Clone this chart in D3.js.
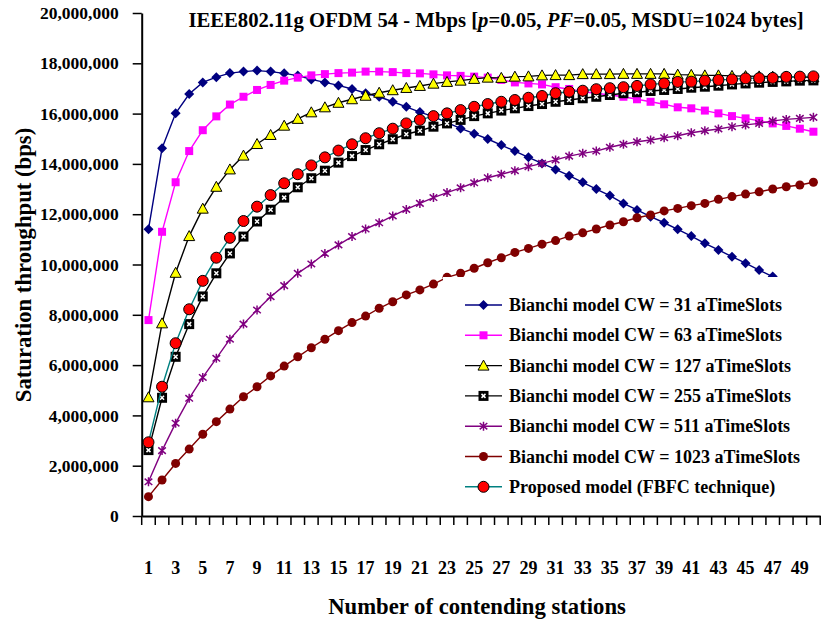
<!DOCTYPE html>
<html>

<head>
  <title>Saturation throughput</title>

  <style>
    body,
    html {
      margin: 0;
      padding: 0;
      background: #fff;
    }

    text {
      font-family: "Liberation Serif", "Times New Roman", serif;
      font-weight: bold;
      fill: #000;
    }
  </style>
</head>

<body>

  <svg id="svg" width="821" height="622"></svg>

  <script src="https://d3js.org/d3.v7.min.js"></script>
  <script>
    // values in millions of bps
    const stations = [1, 2, 3, 4, 5, 6, 7, 8, 9, 10, 11, 12, 13, 14, 15, 16, 17, 18, 19, 20,
      21, 22, 23, 24, 25, 26, 27, 28, 29, 30, 31, 32, 33, 34, 35, 36, 37, 38, 39, 40,
      41, 42, 43, 44, 45, 46, 47, 48, 49, 50]
    const xTickLabels = [1, 3, 5, 7, 9, 11, 13, 15, 17, 19, 21, 23, 25, 27, 29, 31, 33, 35, 37, 39, 41, 43, 45, 47, 49]
    const yTicks = [0, 2, 4, 6, 8, 10, 12, 14, 16, 18, 20]

    const cw31 = [11.40, 14.62, 16.01, 16.78, 17.24, 17.45, 17.61, 17.67, 17.71, 17.67,
      17.60, 17.51, 17.36, 17.24, 17.12, 16.98, 16.81, 16.67, 16.47, 16.27,
      16.06, 15.88, 15.64, 15.41, 15.20, 14.99, 14.75, 14.51, 14.26, 14.02,
      13.78, 13.53, 13.27, 13.00, 12.74, 12.43, 12.17, 11.90, 11.66, 11.40,
      11.13, 10.84, 10.58, 10.31, 10.05, 9.78, 9.52, 9.25, 8.98, 8.71]
    const cw63 = [7.79, 11.30, 13.27, 14.51, 15.34, 15.89, 16.36, 16.67, 16.94, 17.14,
      17.31, 17.43, 17.52, 17.57, 17.61, 17.63, 17.67, 17.67, 17.65, 17.61,
      17.60, 17.56, 17.52, 17.50, 17.47, 17.43, 17.34, 17.24, 17.20, 17.16,
      17.05, 16.98, 16.87, 16.81, 16.74, 16.67, 16.57, 16.47, 16.37, 16.25,
      16.21, 16.12, 16.01, 15.90, 15.81, 15.71, 15.61, 15.51, 15.40, 15.28]
    const cw127 = [4.72, 7.66, 9.67, 11.13, 12.22, 13.09, 13.78, 14.33, 14.79, 15.15,
      15.52, 15.79, 16.05, 16.25, 16.43, 16.57, 16.71, 16.83, 16.93, 17.02,
      17.10, 17.19, 17.26, 17.31, 17.38, 17.43, 17.42, 17.47, 17.48, 17.52,
      17.53, 17.53, 17.57, 17.57, 17.57, 17.58, 17.58, 17.58, 17.58, 17.55,
      17.54, 17.52, 17.52, 17.50, 17.49, 17.48, 17.47, 17.46, 17.45, 17.44]
    const cw255 = [2.62, 4.70, 6.33, 7.63, 8.73, 9.65, 10.44, 11.11, 11.71, 12.18,
      12.66, 13.07, 13.43, 13.73, 14.05, 14.31, 14.55, 14.78, 14.98, 15.18,
      15.32, 15.48, 15.61, 15.75, 15.90, 16.01, 16.12, 16.21, 16.30, 16.38,
      16.47, 16.54, 16.61, 16.67, 16.74, 16.81, 16.85, 16.90, 16.94, 16.98,
      17.03, 17.07, 17.11, 17.16, 17.20, 17.23, 17.26, 17.28, 17.31, 17.32]
    const cw511 = [1.36, 2.60, 3.69, 4.68, 5.51, 6.27, 7.03, 7.63, 8.19, 8.72,
      9.16, 9.65, 10.02, 10.44, 10.78, 11.11, 11.41, 11.66, 11.93, 12.19,
      12.43, 12.66, 12.86, 13.05, 13.25, 13.45, 13.59, 13.73, 13.89, 14.02,
      14.16, 14.31, 14.42, 14.51, 14.66, 14.78, 14.88, 14.95, 15.04, 15.12,
      15.24, 15.32, 15.39, 15.48, 15.55, 15.61, 15.71, 15.77, 15.81, 15.85]
    const cw1023 = [0.77, 1.43, 2.09, 2.66, 3.25, 3.75, 4.25, 4.74, 5.14, 5.57,
      5.96, 6.33, 6.69, 7.03, 7.37, 7.69, 7.95, 8.26, 8.52, 8.79,
      8.99, 9.22, 9.49, 9.65, 9.85, 10.07, 10.27, 10.48, 10.64, 10.81,
      10.95, 11.13, 11.26, 11.41, 11.57, 11.70, 11.86, 11.97, 12.13, 12.23,
      12.34, 12.43, 12.59, 12.70, 12.80, 12.89, 13.00, 13.09, 13.16, 13.27]
    const proposed = [2.93, 5.14, 6.87, 8.22, 9.35, 10.27, 11.06, 11.73, 12.30, 12.76,
      13.23, 13.59, 13.94, 14.26, 14.53, 14.78, 15.02, 15.22, 15.40, 15.61,
      15.75, 15.90, 16.01, 16.14, 16.27, 16.38, 16.47, 16.54, 16.63, 16.70,
      16.81, 16.87, 16.91, 16.97, 17.01, 17.05, 17.10, 17.16, 17.20, 17.26,
      17.27, 17.31, 17.34, 17.36, 17.40, 17.41, 17.42, 17.46, 17.47, 17.48]

    const seriesNames = [
      "Bianchi model CW = 31 aTimeSlots",
      "Bianchi model CW = 63 aTimeSlots",
      "Bianchi model CW = 127 aTimeSlots",
      "Bianchi model CW = 255 aTimeSlots",
      "Bianchi model CW = 511 aTimeSlots",
      "Bianchi model CW = 1023 aTimeSlots",
      "Proposed model (FBFC technique)"
    ]

    const series = [
      { name: seriesNames[0], values: cw31, line: "#000080", marker: "diamond" },
      { name: seriesNames[1], values: cw63, line: "#ff00ff", marker: "square" },
      { name: seriesNames[2], values: cw127, line: "#000000", marker: "triangle" },
      { name: seriesNames[3], values: cw255, line: "#000000", marker: "xsquare" },
      { name: seriesNames[4], values: cw511, line: "#800080", marker: "star" },
      { name: seriesNames[5], values: cw1023, line: "#800000", marker: "dot" },
      { name: seriesNames[6], values: proposed, line: "#008080", marker: "redcircle" }
    ]

    const plotLeft = 141.7
    const plotRight = 820.2
    const plotTop = 13
    const plotBottom = 516

    const svg = d3.select("#svg")

    const xScale = d3.scaleBand()
      .domain(stations)
      .range([plotLeft, plotRight])
      .padding(0)
    const cx = d => xScale(d) + xScale.bandwidth() / 2

    const yScale = d3.scaleLinear()
      .domain([0, 20])
      .range([plotBottom, plotTop])

    function drawMarker(g, type, color) {
      if (type === "diamond") {
        g.append("path").attr("d", "M0,-5L5,0L0,5L-5,0Z").attr("fill", color)
      } else if (type === "square") {
        g.append("rect").attr("x", -4).attr("y", -4).attr("width", 8).attr("height", 8).attr("fill", color)
      } else if (type === "triangle") {
        g.append("path").attr("d", "M0,-5.5L5.5,4.5L-5.5,4.5Z")
          .attr("fill", "#ffff00").attr("stroke", "#000").attr("stroke-width", 1)
      } else if (type === "xsquare") {
        g.append("rect").attr("x", -5).attr("y", -5).attr("width", 10).attr("height", 10).attr("fill", "#000")
        g.append("path").attr("d", "M-2,-2L2,2M2,-2L-2,2")
          .attr("stroke", "#fff").attr("stroke-width", 1.5)
      } else if (type === "star") {
        g.append("path").attr("d", "M0,-4.5L0,4.5M-3.8,-3.2L3.8,3.2M3.8,-3.2L-3.8,3.2")
          .attr("stroke", color).attr("stroke-width", 1.5)
      } else if (type === "dot") {
        g.append("circle").attr("r", 4.5).attr("fill", color)
      } else if (type === "redcircle") {
        g.append("circle").attr("r", 5.5).attr("fill", "#ff0000")
          .attr("stroke", "#000").attr("stroke-width", 1)
      }
    }

    const lineGen = d3.line()
      .x((d, i) => cx(stations[i]))
      .y(d => yScale(d))

    const plot = svg.append("g")
    series.forEach(s => {
      const g = plot.append("g")
      g.append("path")
        .attr("d", lineGen(s.values))
        .attr("fill", "none")
        .attr("stroke", s.line)
        .attr("stroke-width", 1.4)
      g.selectAll("g")
        .data(s.values)
        .enter()
        .append("g")
        .attr("transform", (d, i) => `translate(${cx(stations[i])},${yScale(d)})`)
        .each(function () { drawMarker(d3.select(this), s.marker, s.line) })
    })

    // legend box sits on top of the plot with a white fill
    const legend = svg.append("g")
    legend.append("rect")
      .attr("x", 443).attr("y", 277)
      .attr("width", 378).attr("height", 228)
      .attr("fill", "#fff")

    series.forEach((s, i) => {
      const ly = 305 + i * 30.3
      legend.append("line")
        .attr("x1", 465).attr("x2", 502)
        .attr("y1", ly).attr("y2", ly)
        .attr("stroke", s.line).attr("stroke-width", 1.4)
      const mg = legend.append("g").attr("transform", `translate(483.5,${ly})`)
      drawMarker(mg, s.marker, s.line)
      legend.append("text")
        .attr("x", 509).attr("y", ly + 6)
        .style("font-size", "18px")
        .text(s.name)
    })

    // axes
    const leftAxis = d3.axisLeft(yScale)
      .tickValues(yTicks)
      .tickSize(9)
      .tickSizeOuter(0)
      .tickPadding(14)
      .tickFormat(d => d3.format(",")(d * 1000000))

    const yAxisG = svg.append("g")
      .attr("transform", `translate(${plotLeft},0)`)
      .call(leftAxis)
    yAxisG.select(".domain").attr("stroke-width", 2)
    yAxisG.selectAll(".tick line").attr("stroke-width", 1.5)
    yAxisG.selectAll(".tick text")
      .attr("font-family", null)
      .attr("font-size", null)
      .style("font-size", "17.5px")

    const bottomAxis = d3.axisBottom(xScale)
      .tickValues(xTickLabels)
      .tickSize(0)
      .tickSizeOuter(0)
      .tickPadding(45)

    const xAxisG = svg.append("g")
      .attr("transform", `translate(0,${plotBottom})`)
      .call(bottomAxis)
    xAxisG.select(".domain").attr("stroke-width", 2)
    xAxisG.selectAll(".tick text")
      .attr("font-family", null)
      .attr("font-size", null)
      .style("font-size", "18px")

    // category boundary ticks
    const boundaries = stations.map(d => xScale(d)).concat([xScale.range()[1]])
    xAxisG.selectAll(".bound")
      .data(boundaries)
      .enter()
      .append("line")
      .attr("x1", d => d).attr("x2", d => d)
      .attr("y1", 0).attr("y2", 9)
      .attr("stroke", "#000")
      .attr("stroke-width", 1.5)

    // titles
    const title = svg.append("text")
      .attr("x", 496).attr("y", 27)
      .attr("text-anchor", "middle")
      .style("font-size", "20.7px")
    title.append("tspan").text("IEEE802.11g OFDM 54 - Mbps [")
    title.append("tspan").style("font-style", "italic").text("p")
    title.append("tspan").text("=0.05, ")
    title.append("tspan").style("font-style", "italic").text("PF")
    title.append("tspan").text("=0.05, MSDU=1024 bytes]")

    svg.append("text")
      .attr("x", 477).attr("y", 614)
      .attr("text-anchor", "middle")
      .style("font-size", "22.7px")
      .text("Number of contending stations")

    svg.append("text")
      .attr("transform", "translate(31,265) rotate(-90)")
      .attr("text-anchor", "middle")
      .style("font-size", "22.7px")
      .text("Saturation throughput (bps)")
  </script>
</body>

</html>
